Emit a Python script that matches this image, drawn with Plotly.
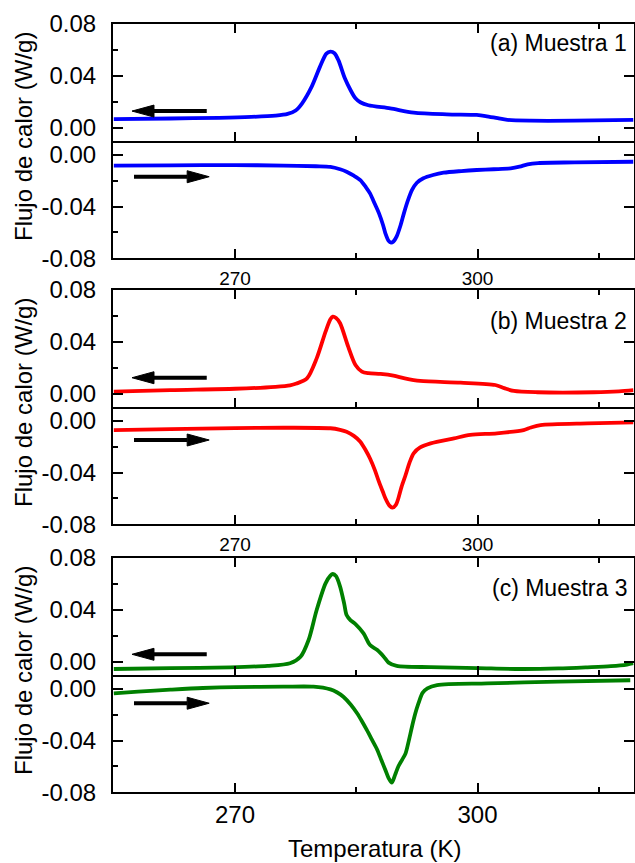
import plotly.graph_objects as go

W, H = 635, 863

# Temperature (K) and heat flow (W/g); "cool" = top half (cooling run), "heat" = bottom half
t_cool_1 = [255, 262, 268, 272, 275, 276.5, 277.5, 278.3, 279.5, 280.5, 281.3, 281.8, 282.3, 282.8,
            283.6, 284.3, 284.9, 285.5, 286.5, 289.2, 292.1, 296.2, 299.9, 301.0, 302.5, 303.7,
            306.6, 312, 319.3]
q_cool_1 = [0.0068, 0.0073, 0.0078, 0.0085, 0.0095, 0.0108, 0.0135, 0.019, 0.032, 0.047, 0.0572,
            0.0587, 0.0575, 0.052, 0.038, 0.029, 0.0228, 0.0198, 0.0175, 0.0151, 0.0118, 0.0105,
            0.0100, 0.0092, 0.0075, 0.0062, 0.0056, 0.0056, 0.0062]
t_heat_1 = [255, 262, 270, 276, 280, 281.8, 283.0, 283.8, 284.7, 285.5, 286.2, 286.7, 287.3, 287.8,
            288.3, 288.6, 289.0, 289.3, 289.6, 290.0, 290.5, 290.9, 291.4, 291.9, 292.5, 293.3,
            294.5, 295.8, 298, 299.9, 302, 304.1, 305.2, 306.2, 307.5, 312, 319.3]
q_heat_1 = [-0.0082, -0.0080, -0.0078, -0.0082, -0.0087, -0.0092, -0.0110, -0.0129, -0.0160,
            -0.0194, -0.0250, -0.0297, -0.0380, -0.0450, -0.0540, -0.0606, -0.0665, -0.0679,
            -0.0670, -0.0630, -0.0540, -0.0450, -0.0350, -0.0270, -0.0215, -0.0180, -0.0155,
            -0.0137, -0.0124, -0.0116, -0.0110, -0.0103, -0.0090, -0.0072, -0.0062, -0.0057, -0.0052]

t_cool_2 = [255, 262, 270, 275, 276.8, 277.6, 278.9, 280.1, 281.2, 281.8, 282.1, 282.5, 283.0,
            284.0, 284.9, 285.7, 286.5, 288.0, 289.6, 291, 292.9, 297.9, 302.2, 303.3, 304.5,
            307.4, 314.4, 317.5, 319.3]
q_cool_2 = [0.0018, 0.0030, 0.0040, 0.0055, 0.0066, 0.0080, 0.0120, 0.0274, 0.0480, 0.0575, 0.0595,
            0.0585, 0.0544, 0.0364, 0.0223, 0.0172, 0.0160, 0.0154, 0.0141, 0.0120, 0.0100, 0.0087,
            0.0069, 0.0045, 0.0023, 0.0013, 0.0013, 0.0020, 0.0030]
t_heat_2 = [255, 262, 270, 276, 281.8, 283.0, 283.8, 284.7, 285.5, 286.2, 286.7, 287.3, 287.8,
            288.3, 288.6, 289.1, 289.5, 289.9, 290.2, 290.6, 291.1, 291.6, 292.1, 292.9, 294.2,
            297.1, 299.1, 302.4, 305.7, 306.6, 307.8, 313.6, 319.3]
q_heat_2 = [-0.0070, -0.0062, -0.0055, -0.0052, -0.0056, -0.0068, -0.0083, -0.0115, -0.0160,
            -0.0230, -0.0290, -0.0380, -0.0470, -0.0550, -0.0598, -0.0655, -0.0671, -0.0650,
            -0.0600, -0.0510, -0.0418, -0.0320, -0.0250, -0.0205, -0.0173, -0.0134, -0.0108,
            -0.0095, -0.0070, -0.0050, -0.0031, -0.0018, -0.0011]

t_cool_3 = [255, 262, 269.4, 274, 276.8, 278.1, 279.1, 280.1, 281.2, 281.8, 282.1, 282.5, 283.0,
            283.5, 283.8, 284.3, 284.9, 285.9, 286.7, 287.6, 288.4, 289.0, 290.0, 294.2, 300,
            305.3, 310, 313.6, 316.5, 318.5, 319.3]
q_cool_3 = [-0.0054, -0.0048, -0.0041, -0.0030, -0.0010, 0.0040, 0.0169, 0.0400, 0.0605, 0.0665,
            0.0677, 0.0660, 0.0580, 0.0450, 0.0361, 0.0320, 0.0292, 0.0220, 0.0131, 0.0092, 0.0041,
            -0.0005, -0.0030, -0.0040, -0.0047, -0.0054, -0.0050, -0.0041, -0.0032, -0.0020, -0.0010]
t_heat_3 = [255, 258, 262, 266, 270, 276, 279.7, 281.8, 282.6, 283.4, 284.3, 285.1, 285.7, 286.3,
            287.0, 287.6, 288.1, 288.6, 289.0, 289.4, 289.8, 290.2, 290.7, 291.1, 291.5, 291.9,
            292.3, 292.7, 293.2, 293.8, 295.0, 301.2, 310, 318.9]
q_heat_3 = [-0.0033, -0.0020, -0.0005, 0.0008, 0.0015, 0.0018, 0.0018, -0.0003, -0.0025, -0.0060,
            -0.0120, -0.0188, -0.0250, -0.0317, -0.0400, -0.0472, -0.0550, -0.0627, -0.0690,
            -0.0725, -0.0665, -0.0600, -0.0545, -0.0498, -0.0400, -0.0290, -0.0190, -0.0110,
            -0.0030, 0.0005, 0.0031, 0.0044, 0.0057, 0.0068]

sample_labels = ["(a) Muestra 1", "(b) Muestra 2", "(c) Muestra 3"]
colors = ["#0000ff", "#ff0000", "#008000"]
x_ticks = [270, 300]
x_minor = [255, 285, 315]
y_ticks_top = [0.0, 0.04, 0.08]
y_ticks_bottom = [-0.08, -0.04, 0.0]
y_minor_top = [0.02, 0.06]
y_minor_bottom = [-0.06, -0.02]
# arrow heights (W/g) in the cooling / heating halves of each panel
arrow_cool_y = [0.013, 0.0125, 0.0059]
arrow_heat_y = [-0.0168, -0.0147, -0.011]

series = [
    (t_cool_1, q_cool_1, t_heat_1, q_heat_1),
    (t_cool_2, q_cool_2, t_heat_2, q_heat_2),
    (t_cool_3, q_cool_3, t_heat_3, q_heat_3),
]

FONT = "Liberation Sans, Arial, sans-serif"
X0, X1 = 113, 633.5
X_RANGE = [254.9, 319.3]
Y_RANGE_TOP = [-0.0098, 0.08]
Y_RANGE_BOTTOM = [-0.08, 0.0111]
PANEL_TOP = [24, 290, 558]
H_TOP, H_BOTTOM = 116.7, 117.6


def py(v):
    return 1 - v / H


def px(v):
    return v / W


fig = go.Figure()
layout = dict(width=W, height=H, margin=dict(l=0, r=0, t=0, b=0, autoexpand=False),
              paper_bgcolor="white", plot_bgcolor="white", showlegend=False,
              font=dict(family=FONT, size=24, color="black"))
shapes, annotations = [], []

kx = (X1 - X0) / (X_RANGE[1] - X_RANGE[0])
tick_style = dict(ticks="inside", tickwidth=2, tickcolor="black", showgrid=False,
                  zeroline=False, automargin=False)

for p in range(3):
    top = PANEL_TOP[p]
    mid = top + H_TOP
    bot = mid + H_BOTTOM
    tc, qc, th, qh = series[p]
    for s in range(2):
        i = 2 * p + s + 1
        xs, ys = (tc, qc) if s == 0 else (th, qh)
        fig.add_trace(go.Scatter(
            x=xs, y=ys, xaxis=f"x{i}", yaxis=f"y{i}", mode="lines",
            line=dict(color=colors[p], width=3.8, shape="spline", smoothing=0.8),
            hoverinfo="skip"))
        dom = [py(mid), py(top)] if s == 0 else [py(bot), py(mid)]
        is_last = (p == 2)
        # the shared middle border is drawn once, by the upper half's bottom axis
        xa = dict(domain=[px(X0), px(X1)], range=X_RANGE, anchor=f"y{i}",
                  tickmode="array", tickvals=x_ticks, ticktext=[str(v) for v in x_ticks],
                  ticklen=9, showline=True, linewidth=2, linecolor="black",
                  mirror="ticks" if s == 0 else False,
                  minor=dict(tickmode="array", tickvals=x_minor, ticks="inside",
                             ticklen=5, tickwidth=2, tickcolor="black"),
                  showticklabels=(s == 1),
                  tickfont=dict(family=FONT, size=24 if is_last else 19),
                  ticklabelstandoff=0 if is_last else 2, **tick_style)
        if s == 0:
            yt, ymin, yr = y_ticks_top, y_minor_top, Y_RANGE_TOP
        else:
            yt, ymin, yr = y_ticks_bottom, y_minor_bottom, Y_RANGE_BOTTOM
        ya = dict(domain=dom, range=yr, anchor=f"x{i}",
                  tickmode="array", tickvals=yt,
                  ticktext=[f"{v:.2f}".replace("-0.00", "0.00") for v in yt],
                  ticklen=10, showline=True, linewidth=2, linecolor="black", mirror=True,
                  minor=dict(tickmode="array", tickvals=ymin, ticks="inside",
                             ticklen=5, tickwidth=2, tickcolor="black"),
                  tickfont=dict(family=FONT, size=24), ticklabelstandoff=10, **tick_style)
        # right-hand frame carries only the major ticks
        ya_right = dict(domain=dom, range=yr, anchor=f"x{i}", overlaying=f"y{i}",
                        side="right", tickmode="array", tickvals=yt, ticklen=10,
                        showticklabels=False, showline=False, **tick_style)
        suffix = "" if i == 1 else str(i)
        layout["xaxis" + suffix] = xa
        layout["yaxis" + suffix] = ya
        layout[f"yaxis{6 + i}"] = ya_right
        fig.add_trace(go.Scatter(x=[X_RANGE[0]], y=[yr[0]], xaxis=f"x{i}", yaxis=f"y{6 + i}",
                                 mode="markers", marker=dict(opacity=0), hoverinfo="skip"))

        # direction arrow: cooling points left, heating points right
        ky = (H_TOP if s == 0 else H_BOTTOM) / (yr[1] - yr[0])
        head_len = 22 / kx
        half_w = 6 / ky
        if s == 0:
            y0 = arrow_cool_y[p]
            tip, tail = 257.25, 266.5
            base = tip + head_len
        else:
            y0 = arrow_heat_y[p]
            tip, tail = 266.8, 257.5
            base = tip - head_len
        shapes.append(dict(type="line", xref=f"x{i}", yref=f"y{i}", x0=tail, x1=base,
                           y0=y0, y1=y0, line=dict(color="black", width=4)))
        shapes.append(dict(type="path", xref=f"x{i}", yref=f"y{i}",
                           path=f"M{tip},{y0} L{base},{y0 + half_w} L{base},{y0 - half_w} Z",
                           fillcolor="black", line=dict(color="black", width=1)))

    annotations.append(dict(text=sample_labels[p], xref="paper", yref="paper",
                            x=px(629), y=py(top + [19, 31, 30][p]), xanchor="right",
                            yanchor="middle", showarrow=False,
                            font=dict(family=FONT, size=23, color="black")))
    annotations.append(dict(text="Flujo de calor (W/g)", xref="paper", yref="paper",
                            x=px(23), y=py(top + 113), xanchor="center", yanchor="middle",
                            textangle=-90, showarrow=False,
                            font=dict(family=FONT, size=24, color="black")))

annotations.append(dict(text="Temperatura (K)", xref="paper", yref="paper",
                        x=px(375), y=py(848), xanchor="center", yanchor="middle",
                        showarrow=False, font=dict(family=FONT, size=24, color="black")))

layout["shapes"] = shapes
layout["annotations"] = annotations
fig.update_layout(**layout)
fig.write_html("out.html")
